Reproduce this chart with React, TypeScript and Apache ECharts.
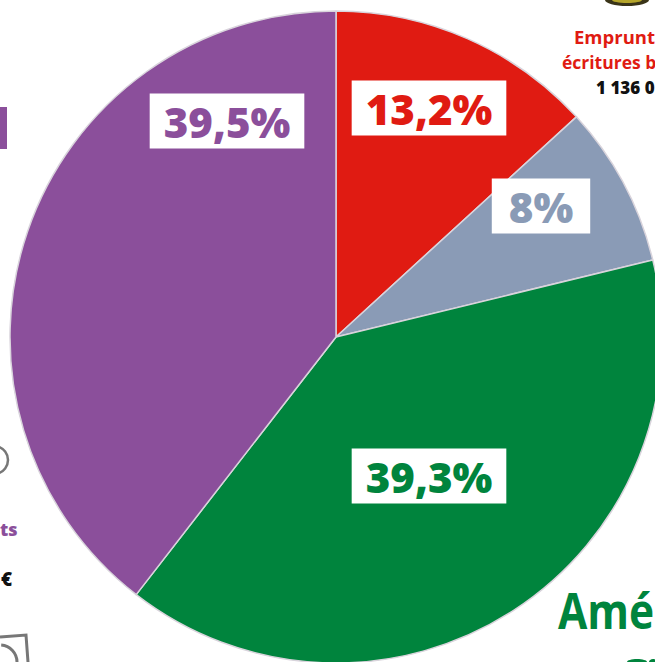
import React, { useEffect, useRef } from "react";
import * as echarts from "echarts";

const shares = [13.2, 8, 39.3, 39.5];
const names = ["Emprunts", "Autres", "Amériques", "Prêts"];
const colors = ["#e01b12", "#8a9bb6", "#00843d", "#8b4f9b"];
const labelCenters = [
  [429, 108],
  [541, 206],
  [429, 476],
  [227, 121],
];
const labelSidePadding = [14, 17, 14, 14];
const pieCenter = [336, 337];
const pieRadius = 326;

const fontFamily = '"Open Sans", "Noto Sans", sans-serif';

const App = () => {
  const ref = useRef<HTMLDivElement>(null);
  useEffect(() => {
    document.body.style.margin = "0";
    const chart = echarts.init(ref.current!, null, { renderer: "svg" });
    chart.setOption({
      animation: false,
      backgroundColor: "#ffffff",
      graphic: [
        { type: "rect", shape: { x: 0, y: 107, width: 7, height: 42 }, style: { fill: "#8b4f9b" } },
        { type: "text", x: 0, y: 520, style: { text: "ts", fill: "#8b4f9b", font: `800 18px ${fontFamily}` } },
        { type: "text", x: 1, y: 569, style: { text: "€", fill: "#111", font: `800 19px ${fontFamily}` } },
        { type: "text", x: 574, y: 27, style: { text: "Emprunt", fill: "#e01b12", font: `700 18.5px ${fontFamily}` } },
        { type: "text", x: 562, y: 53, style: { text: "écritures b", fill: "#e01b12", font: `700 17.5px ${fontFamily}` } },
        { type: "text", x: 596, y: 79, style: { text: "1 136 0", fill: "#111", font: `800 17px ${fontFamily}` } },
        { type: "text", x: 558, y: 585, scaleX: 0.85, style: { text: "Amé", fill: "#00843d", font: `700 50px ${fontFamily}` } },
        { type: "ellipse", shape: { cx: 627, cy: 0, rx: 22, ry: 6 }, style: { fill: "#3a3418" } },
        { type: "ellipse", shape: { cx: 627, cy: 0, rx: 15, ry: 3 }, style: { fill: "#b5a52a" } },
        { type: "arc", shape: { cx: -6, cy: 460, r: 14, startAngle: -1.3, endAngle: 1.3 }, style: { stroke: "#777777", lineWidth: 2.5, fill: "none" } },
        { type: "polyline", shape: { points: [[0, 637], [26, 635], [28, 662]] }, style: { stroke: "#777777", lineWidth: 3, fill: "none" } },
        { type: "arc", shape: { cx: 0, cy: 662, r: 17, startAngle: -1.5, endAngle: 0 }, style: { stroke: "#777777", lineWidth: 3, fill: "none" } },
        { type: "ellipse", shape: { cx: 637, cy: 662, rx: 10, ry: 3 }, style: { fill: "#00843d" } },
        { type: "ellipse", shape: { cx: 653, cy: 662, rx: 4, ry: 3 }, style: { fill: "#00843d" } },
      ],
      series: [
        {
          type: "pie",
          center: pieCenter,
          radius: [0, pieRadius],
          startAngle: 90,
          clockwise: true,
          silent: true,
          itemStyle: { borderColor: "#d9d4dc", borderWidth: 1.5 },
          labelLine: { show: false },
          data: shares.map((v, i) => ({
            name: names[i],
            value: v,
            itemStyle: { color: colors[i] },
            label: {
              show: true,
              position: "inside",
              formatter: () => `${String(v).replace(".", ",")}%`,
              color: colors[i],
              backgroundColor: "#ffffff",
              fontFamily,
              fontWeight: 800,
              fontSize: 42,
              lineHeight: 55,
              padding: [0, labelSidePadding[i]],
            },
          })),
          labelLayout: (p: any) => ({
            x: labelCenters[p.dataIndex][0],
            y: labelCenters[p.dataIndex][1],
            align: "center",
            verticalAlign: "middle",
          }),
        },
      ],
    });
    return () => chart.dispose();
  }, []);
  return <div ref={ref} style={{ width: 655, height: 662 }} />;
};

export default App;
